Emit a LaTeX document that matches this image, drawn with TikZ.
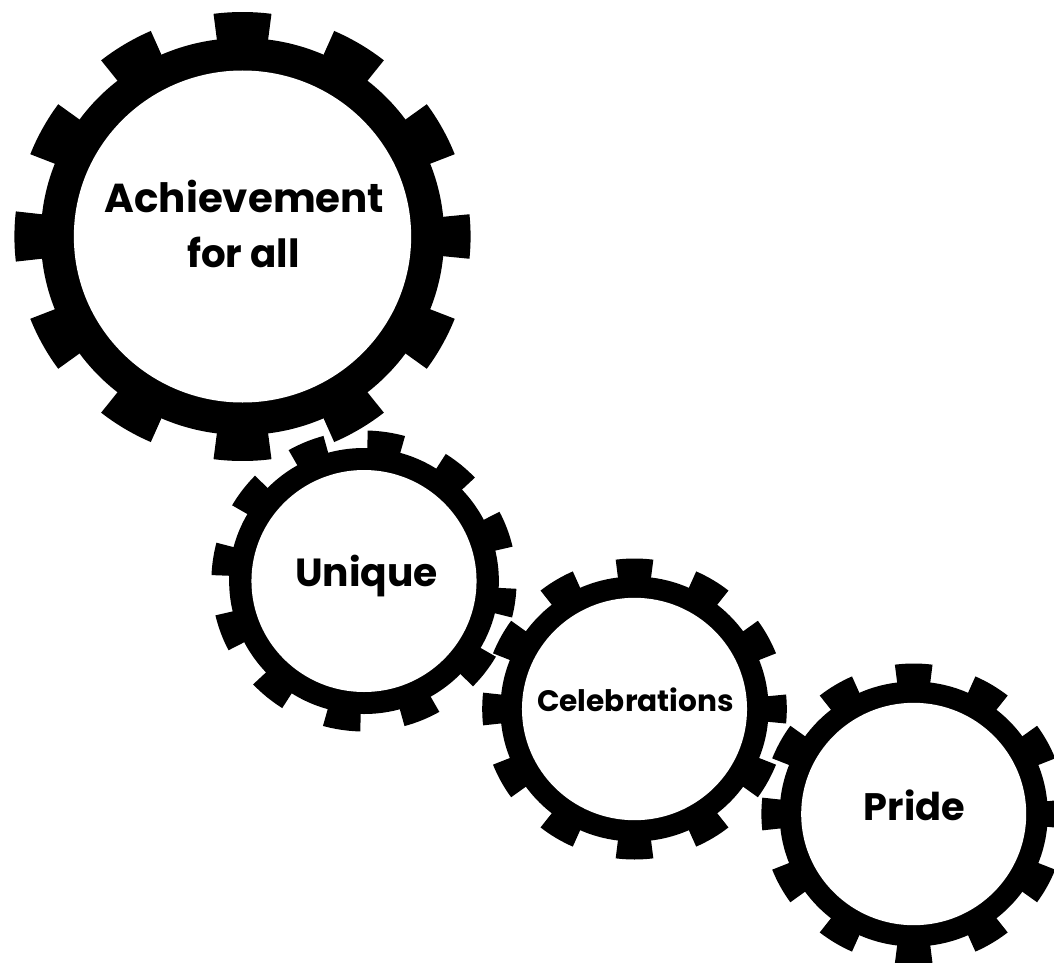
\documentclass[tikz,border=0pt]{standalone}
\usepackage{fontspec}
\setmainfont{Poppins}
\newcommand{\gearshape}[8]{% x y hole ring tip rot half-angle xscale
  \begin{scope}[shift={(#1,#2)},xscale=#8]
    \fill[gearblack] (0,0) circle[radius=#4];
    \foreach \k/\f in {0/0.78,28.8/1,59/1,90/1,121/1,151.2/1,180/0.88,208.8/1,239/1,270/1,301/1,331.2/1}{
      \pgfmathsetmacro{\ha}{#7*\f}
      \fill[gearblack,rotate=\k+#6] (-\ha:#4-4) -- (-\ha:#5) arc[start angle=-\ha,end angle=\ha,radius=#5] -- (\ha:#4-4) -- cycle;
    }
    \fill[white] (0,0) circle[radius=#3];
  \end{scope}}
\tikzset{gearblack/.style={black},
  gearlabel/.style={align=center,inner sep=0pt,text=black,anchor=base}}
\begin{document}
\begin{tikzpicture}[x=1pt,y=-1pt]
\useasboundingbox (0,0) rectangle (1054,963);
\gearshape{242.5}{236.5}{166}{198.5}{224.5}{0}{7.3}{1.016}
\gearshape{364}{581}{111}{133}{150.5}{-8.5}{7.1}{1.014}
\gearshape{634.5}{709}{111.2}{132.5}{150.5}{0}{7.1}{1.012}
\gearshape{913.7}{814}{111.2}{132.5}{150.5}{0}{7.1}{1.012}
\node[gearlabel,font=\bfseries\fontsize{40.4}{55}\selectfont] (a) at (244.5,212) {Achievement};
\node[gearlabel,font=\bfseries\fontsize{38.8}{55}\selectfont] (a2) at (243.5,267) {for all};
\node[gearlabel,font=\bfseries\fontsize{39.2}{44}\selectfont] (b) at (366.5,586) {Unique};
\node[gearlabel,font=\bfseries\fontsize{29.6}{36}\selectfont] (c) at (635.5,711) {Celebrations};
\node[gearlabel,font=\bfseries\fontsize{38.3}{44}\selectfont] (d) at (914.5,820) {Pride};
\end{tikzpicture}
\end{document}
